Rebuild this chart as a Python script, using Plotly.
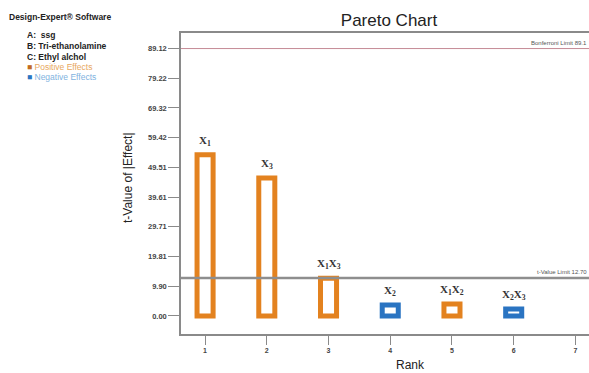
import plotly.graph_objects as go

ranks = [1, 2, 3, 4, 5, 6]
terms = ["X<sub>1</sub>", "X<sub>3</sub>", "X<sub>1</sub>X<sub>3</sub>", "X<sub>2</sub>",
         "X<sub>1</sub>X<sub>2</sub>", "X<sub>2</sub>X<sub>3</sub>"]
t_values = [53.7, 46.0, 12.6, 3.7, 4.0, 2.3]
signs = ["+", "+", "+", "-", "+", "-"]
ytick_vals = [0.0, 9.90, 19.81, 29.71, 39.61, 49.51, 59.42, 69.32, 79.22, 89.12]
ytick_text = ["0.00", "9.90", "19.81", "29.71", "39.61", "49.51", "59.42", "69.32", "79.22", "89.12"]
xtick_vals = [1, 2, 3, 4, 5, 6, 7]
bonferroni = 89.12
t_limit = 12.7
factors = ["A:  ssg", "B: Tri-ethanolamine", "C: Ethyl alchol"]

ORANGE = "#E3821F"
BLUE = "#2A74C2"
colors = [ORANGE if s == "+" else BLUE for s in signs]

W, H = 589, 373
ML, MR, MT, MB = 181, 0, 33, 39
pw, ph = W - ML - MR, H - MT - MB
FONT = "Liberation Sans, Arial"

fig = go.Figure()
fig.add_trace(go.Bar(
    x=ranks, y=t_values, width=0.26,
    marker=dict(color="white", line=dict(color=colors, width=5)),
    showlegend=False, hoverinfo="skip",
))

# limit lines
fig.add_shape(type="line", xref="paper", x0=0, x1=1, yref="y", y0=bonferroni, y1=bonferroni,
              line=dict(color="#C58A96", width=1))
fig.add_shape(type="line", xref="paper", x0=0, x1=1, yref="y", y0=t_limit, y1=t_limit,
              line=dict(color="#8E8E8E", width=2.5))

for r, t, v in zip(ranks, terms, t_values):
    fig.add_annotation(x=r, y=v, xref="x", yref="y", text="<b>" + t + "</b>", showarrow=False,
                       yanchor="bottom", yshift=5,
                       font=dict(family="Liberation Serif, Times New Roman, serif", size=11, color="#333"))

fig.add_annotation(x=1, y=bonferroni, xref="paper", yref="y", text="Bonferroni Limit 89.1",
                   showarrow=False, xanchor="right", yanchor="bottom", yshift=1,
                   font=dict(family=FONT, size=6, color="#555"))
fig.add_annotation(x=1, y=t_limit, xref="paper", yref="y", text="t-Value Limit 12.70",
                   showarrow=False, xanchor="right", yanchor="bottom", yshift=1,
                   font=dict(family=FONT, size=6, color="#555"))


def px_text(x, y, text, size, color, xanchor="left", angle=0):
    fig.add_annotation(x=(x - ML) / pw, y=1 - (y - MT) / ph, xref="paper", yref="paper",
                       text=text, showarrow=False, textangle=angle,
                       xanchor=xanchor, yanchor="middle",
                       font=dict(family=FONT, size=size, color=color))


# axis titles
px_text(128, 178, "t-Value of |Effect|", 12, "#222", xanchor="center", angle=-90)
px_text(410, 365, "Rank", 12, "#222", xanchor="center")

# top-left text block
px_text(7, 17, "<b>Design-Expert® Software</b>", 8.5, "#222")
for yy, f in zip([35, 46, 57], factors):
    px_text(25, yy, "<b>" + f + "</b>", 8.5, "#222")
px_text(25, 67, "<span style='color:#C26A22'>■</span> Positive Effects", 8.5, "#E8A860")
px_text(25, 77, "<span style='color:#2A74C2'>■</span> Negative Effects", 8.5, "#7FB3E0")

fig.update_layout(
    width=W, height=H,
    margin=dict(l=ML, r=MR, t=MT, b=MB),
    paper_bgcolor="white", plot_bgcolor="white",
    title=dict(text="Pareto Chart", x=389 / W, xanchor="center", y=1 - 20 / H, yanchor="middle",
               font=dict(family=FONT, size=17, color="#222")),
    xaxis=dict(range=[0.61, 7.22], tickvals=xtick_vals, ticktext=["<b>%d</b>" % v for v in xtick_vals],
               showgrid=False, zeroline=False, showline=True, mirror=True, linecolor="#8A8A8A", linewidth=1.5,
               ticks="outside", ticklen=9, tickcolor="#8A8A8A", tickwidth=1,
               tickfont=dict(family=FONT, size=7, color="#444")),
    yaxis=dict(range=[-6.0, 94.3], tickvals=ytick_vals, ticktext=["<b>%s</b>" % t for t in ytick_text],
               showgrid=False, zeroline=False, showline=True, linecolor="#8A8A8A", linewidth=1.5,
               ticks="outside", ticklen=11, tickcolor="#8A8A8A", tickwidth=1,
               tickfont=dict(family=FONT, size=7.5, color="#444")),
    bargap=0.7,
)

fig.write_html("out.html", config={"displayModeBar": False},
               post_script="document.body.style.margin='0';document.body.style.overflow='hidden';")
